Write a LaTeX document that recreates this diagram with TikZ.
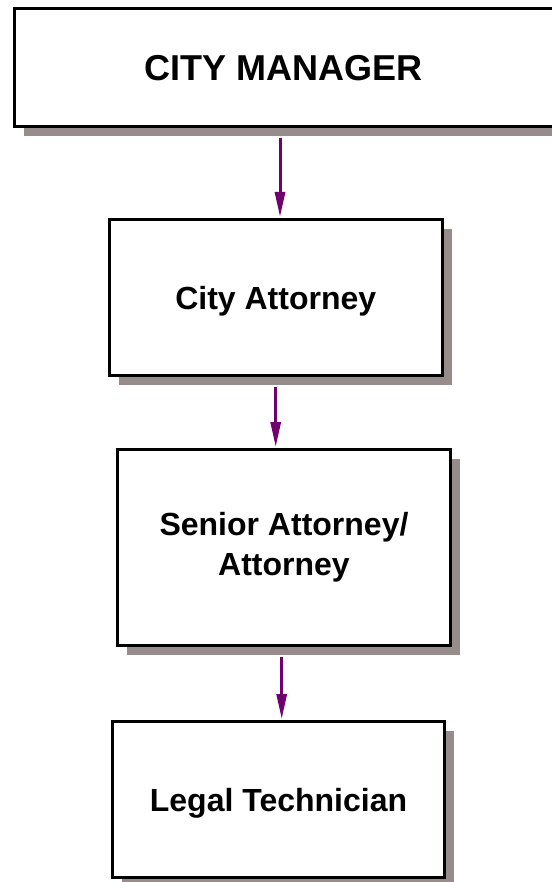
\documentclass[tikz,border=0pt]{standalone}
\usepackage{fontspec}
\setmainfont{Liberation Sans}
\usetikzlibrary{arrows.meta,shadows}

\definecolor{shadowgrey}{RGB}{150,140,140}
\definecolor{linkpurple}{RGB}{112,0,112}

\tikzset{
  orgbox/.style={draw=black, line width=3pt, fill=white, inner sep=0pt,
    font=\bfseries\fontsize{32}{40}\selectfont, align=center, text depth=0pt,
    drop shadow={shadow xshift=9.5pt, shadow yshift=-9.5pt, fill=shadowgrey, opacity=1}},
  link/.style={draw=linkpurple, line width=3pt,
    -{Triangle[length=25pt, width=10pt]}, shorten >=1pt}
}

\begin{document}
\begin{tikzpicture}[x=1pt, y=-1pt]
  \useasboundingbox (0,0) rectangle (551,882);

  % vertical positions of the reporting lines
  \coordinate (c1) at (280,0);
  \coordinate (c2) at (275.7,0);
  \coordinate (c3) at (281.7,0);

  % boxes
  \node[orgbox, minimum width=547pt, minimum height=118pt,
        font=\bfseries\fontsize{36}{40}\selectfont]
        (mgr) at (287.5,67.5) {CITY MANAGER\hspace*{8pt}};
  \node[orgbox, minimum width=333.5pt, minimum height=156pt]
        (att) at (275.75,297.5) {City Attorney};
  \node[orgbox, minimum width=333pt, minimum height=196pt, text depth={}]
        (sen) at (284,547.5) {Senior Attorney/\\Attorney};
  \node[orgbox, minimum width=332pt, minimum height=156pt]
        (leg) at (278.5,799.5) {Legal Technician};

  % reporting lines, starting just below each shadow
  \draw[link] ([yshift=-10pt]mgr.south -| c1) -- (att.north -| c1);
  \draw[link] ([yshift=-10pt]att.south -| c2) -- (sen.north -| c2);
  \draw[link] ([yshift=-10pt]sen.south -| c3) -- (leg.north -| c3);
\end{tikzpicture}
\end{document}
